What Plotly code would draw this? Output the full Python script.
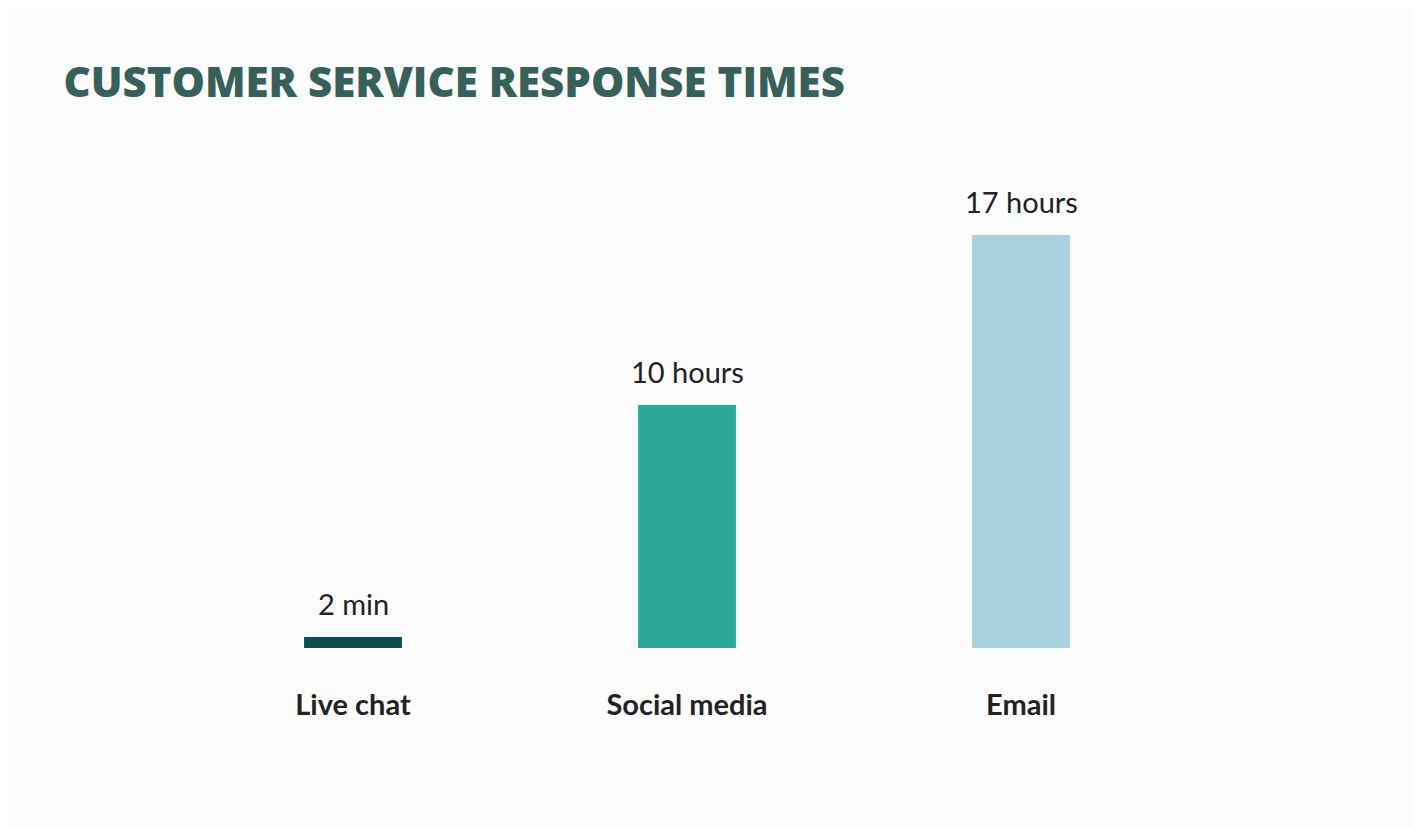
import plotly.graph_objects as go

channels = ['Live chat', 'Social media', 'Email']
response_hours = [0.45, 10, 17]
value_labels = ['2 min', '10 hours', '17 hours']
bar_colors = ['#0b4f55', '#2ba898', '#a8d1df']

fig = go.Figure()

fig.add_trace(go.Bar(
    x=channels,
    y=response_hours,
    marker=dict(color=bar_colors, line=dict(width=0)),
    width=0.293,
    hoverinfo='skip',
))

# value labels sit a bit above each bar
for ch, val, lab in zip(channels, response_hours, value_labels):
    fig.add_annotation(
        x=ch, y=val, text=lab, showarrow=False,
        yanchor='bottom', yshift=14,
        font=dict(family='Lato', size=29, color='#222222'),
    )

# page body adds an 8px offset, so margins are pulled back by 8
fig.update_layout(
    width=1420,
    height=827,
    paper_bgcolor='#fcfcfd',
    plot_bgcolor='#fcfcfd',
    showlegend=False,
    margin=dict(l=178, r=240, t=154, b=187),
    title=dict(
        text='CUSTOMER SERVICE RESPONSE TIMES',
        x=0.039, xanchor='left',
        y=0.9105, yanchor='middle',
        xref='container', yref='container',
        font=dict(family='Open Sans', size=42, color='#38605a', weight=800),
    ),
    xaxis=dict(
        range=[-0.5, 2.5],
        showgrid=False, zeroline=False, showline=False,
        ticks='', ticklabelstandoff=37,
        tickfont=dict(family='Lato', size=29, color='#222222', weight='bold'),
    ),
    yaxis=dict(
        range=[0, 20],
        visible=False,
    ),
)

fig.write_html('out.html')
